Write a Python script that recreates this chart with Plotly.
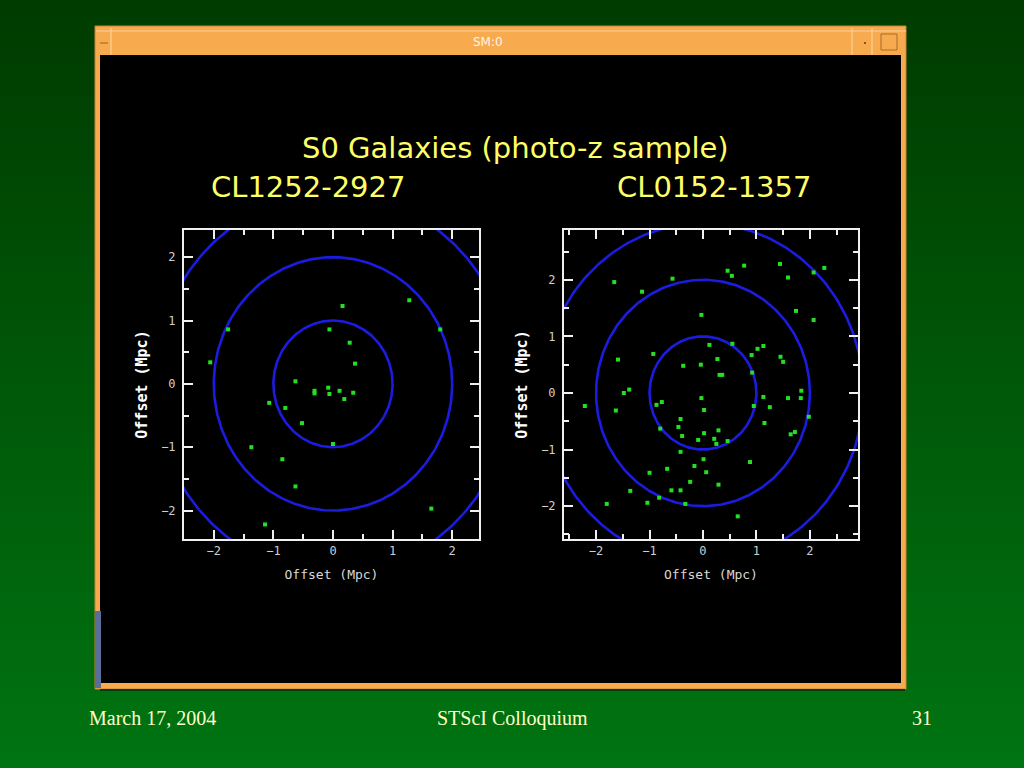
import numpy as np
import plotly.graph_objects as go

# ---------------- data ----------------
title_main = "S0 Galaxies (photo-z sample)"
cluster_names = ["CL1252-2927", "CL0152-1357"]
ring_radii = [1, 2, 3]

cl1252_x = [0.16, 1.28, -1.76, 1.80, -0.06, 0.28, -2.06, 0.37, -0.63, -0.31, -0.31, -0.08, -0.06,
            0.11, 0.34, 0.19, -1.07, -0.80, -0.52, 0.00, -1.37, -0.85, -0.63, 1.65, -1.14]
cl1252_y = [1.23, 1.32, 0.86, 0.86, 0.86, 0.65, 0.34, 0.32, 0.04, -0.11, -0.15, -0.06, -0.16,
            -0.11, -0.14, -0.24, -0.30, -0.38, -0.62, -0.95, -1.00, -1.19, -1.62, -1.97, -2.22]

cl0152_x = [-1.66, -0.57, -1.14, 0.46, 0.54, 0.77, 1.44, 1.59, 2.07, 2.27, 1.74, 2.07, -0.03,
            0.12, 0.55, 1.13, 1.02, 0.91, -0.93, -1.59, 1.45, 1.50, 0.27, -0.04, -0.37, 0.31,
            0.36, 0.92, -1.38, -1.48, -2.21, -1.63, -0.87, -0.77, -0.03, 0.02, 0.95, 1.13, 1.25,
            1.59, 1.84, 1.83, -0.42, -0.46, -0.80, -0.39, 0.02, 0.29, -0.09, 0.21, 0.25, 0.46,
            1.15, 1.64, 1.72, 1.98, -0.42, 0.01, 0.88, -0.16, -0.67, -1.00, 0.06, -0.24, 0.29,
            -0.59, -0.42, -1.36, -0.82, -1.04, -1.80, -0.33, 0.65]
cl0152_y = [1.96, 2.02, 1.79, 2.16, 2.07, 2.25, 2.28, 2.04, 2.13, 2.21, 1.45, 1.29, 1.38,
            0.85, 0.87, 0.83, 0.78, 0.67, 0.69, 0.59, 0.64, 0.55, 0.60, 0.50, 0.48, 0.32,
            0.32, 0.36, 0.06, 0.00, -0.23, -0.31, -0.21, -0.16, -0.09, -0.30, -0.23, -0.07, -0.25,
            -0.09, 0.04, -0.09, -0.46, -0.60, -0.63, -0.76, -0.71, -0.66, -0.83, -0.81, -0.90, -0.85,
            -0.53, -0.73, -0.69, -0.42, -1.04, -1.17, -1.22, -1.29, -1.34, -1.41, -1.40, -1.57, -1.62,
            -1.72, -1.72, -1.73, -1.85, -1.94, -1.96, -1.96, -2.18]

tick_vals = [-2, -1, 0, 1, 2]
tick_text = ["\u22122", "\u22121", "0", "1", "2"]
axis_label = "Offset (Mpc)"
footer_left, footer_mid, footer_right = "March 17, 2004", "STScI Colloquium", "31"
window_title = "SM:0"

# ---------------- figure ----------------
W, H = 1024, 768
def px(x):
    return x / W
def py(y):
    return 1 - y / H

fig = go.Figure()

ring_color = "#1c1ce0"
point_color = "#22e022"
theta = np.linspace(0, 2 * np.pi, 361)

panels = [
    dict(xs=cl1252_x, ys=cl1252_y, xa="x", ya="y"),
    dict(xs=cl0152_x, ys=cl0152_y, xa="x2", ya="y2"),
]
for p in panels:
    for r in ring_radii:
        fig.add_trace(go.Scatter(x=r * np.cos(theta), y=r * np.sin(theta), mode="lines",
                                 line=dict(color=ring_color, width=2.6),
                                 xaxis=p["xa"], yaxis=p["ya"], hoverinfo="skip", showlegend=False))
    fig.add_trace(go.Scatter(x=p["xs"], y=p["ys"], mode="markers",
                             marker=dict(symbol="square", size=4, color=point_color, line=dict(width=0)),
                             xaxis=p["xa"], yaxis=p["ya"], showlegend=False))

tick_font = dict(family="DejaVu Sans Mono", size=12, color="#cfcfcf")
def axis_common(rng, domain):
    return dict(range=rng, domain=domain, showgrid=False, zeroline=False,
                showline=True, linecolor="#f0f0f0", linewidth=2, mirror="ticks",
                ticks="inside", ticklen=9, tickwidth=2, tickcolor="#f0f0f0",
                tickvals=tick_vals, ticktext=tick_text, tickfont=tick_font,
                minor=dict(dtick=0.5, tick0=0, ticks="inside", ticklen=5, tickwidth=2, tickcolor="#f0f0f0"),
                fixedrange=True)

xt = dict(text=axis_label, font=dict(family="DejaVu Sans Mono", size=13, color="#d8d8d8"), standoff=12)
yt = dict(text="<b>" + axis_label + "</b>", font=dict(family="DejaVu Sans Mono", size=15, color="#ffffff"), standoff=10)

fig.update_layout(
    xaxis=dict(**axis_common([-2.5, 2.45], [px(184), px(479)]), anchor="y", title=xt),
    yaxis=dict(**axis_common([-2.45, 2.43], [py(539), py(230)]), anchor="x", title=yt, ticklabelstandoff=4),
    xaxis2=dict(**axis_common([-2.6, 2.9], [px(564), px(858)]), anchor="y2", title=xt),
    yaxis2=dict(**axis_common([-2.58, 2.88], [py(539), py(230)]), anchor="x2", title=yt, ticklabelstandoff=4),
)

shapes = []
# green gradient background
n = 48
top = np.array([0x00, 0x3c, 0x00])
bot = np.array([0x00, 0x74, 0x12])
for i in range(n):
    c = top + (bot - top) * (i / (n - 1))
    shapes.append(dict(type="rect", xref="paper", yref="paper", x0=0, x1=1,
                       y0=1 - (i + 1) / n - 0.002, y1=1 - i / n,
                       fillcolor="rgb(%d,%d,%d)" % tuple(c.astype(int)), line=dict(width=0), layer="below"))
orange = "#f7aa4e"
# window frame
shapes.append(dict(type="rect", xref="paper", yref="paper", x0=px(95), x1=px(906), y0=py(689), y1=py(26),
                   fillcolor=orange, line=dict(color="#c98532", width=1), layer="below"))
# window shadow line
shapes.append(dict(type="line", xref="paper", yref="paper", x0=px(100), x1=px(905), y0=py(690), y1=py(690),
                   line=dict(color="#0a3a0a", width=2), layer="below"))
# black content
shapes.append(dict(type="rect", xref="paper", yref="paper", x0=px(100), x1=px(901), y0=py(683), y1=py(55),
                   fillcolor="#000000", line=dict(width=0), layer="below"))
# title bar separators and buttons
for xx in [111, 852, 872]:
    shapes.append(dict(type="line", xref="paper", yref="paper", x0=px(xx), x1=px(xx), y0=py(55), y1=py(28),
                       line=dict(color="#fcd8a8", width=1), layer="below"))
shapes.append(dict(type="line", xref="paper", yref="paper", x0=px(96), x1=px(906), y0=py(31), y1=py(31),
                   line=dict(color="#fcd0a0", width=1), layer="below"))
shapes.append(dict(type="line", xref="paper", yref="paper", x0=px(100), x1=px(108), y0=py(43), y1=py(43),
                   line=dict(color="#9a6020", width=1), layer="below"))
shapes.append(dict(type="rect", xref="paper", yref="paper", x0=px(881), x1=px(897), y0=py(50), y1=py(34),
                   fillcolor=orange, line=dict(color="#a86a28", width=1), layer="below"))
shapes.append(dict(type="rect", xref="paper", yref="paper", x0=px(864), x1=px(866), y0=py(44), y1=py(42),
                   fillcolor="#8a5018", line=dict(width=0), layer="below"))
# left edge blue-gray piece
shapes.append(dict(type="rect", xref="paper", yref="paper", x0=px(95), x1=px(101), y0=py(688), y1=py(611),
                   fillcolor="#5a6e98", line=dict(width=0), layer="below"))

yellow = "#ffff66"
def ann(text, x, y, font, xanchor="center"):
    return dict(text=text, x=px(x), y=py(y), xref="paper", yref="paper", showarrow=False,
                xanchor=xanchor, yanchor="middle", font=font)

title_font = dict(family="DejaVu Sans", size=29, color=yellow)
foot_font = dict(family="Liberation Serif", size=20, color="#ffffc8")
annotations = [
    ann(title_main, 515, 148, title_font),
    ann(cluster_names[0], 308, 187, title_font),
    ann(cluster_names[1], 714, 187, title_font),
    ann(window_title, 488, 42, dict(family="DejaVu Sans", size=12, color="#fff6e4")),
    ann(footer_left, 87, 718, foot_font, "left"),
    ann(footer_mid, 512, 718, foot_font),
    ann(footer_right, 934, 718, foot_font, "right"),
]

fig.update_layout(width=W, height=H, margin=dict(l=0, r=0, t=0, b=0),
                  paper_bgcolor="#005a08", plot_bgcolor="rgba(0,0,0,0)",
                  shapes=shapes, annotations=annotations, showlegend=False)

fig.write_html("out.html", config={"displayModeBar": False},
               post_script="document.body.style.margin='0';document.body.style.padding='0';")
